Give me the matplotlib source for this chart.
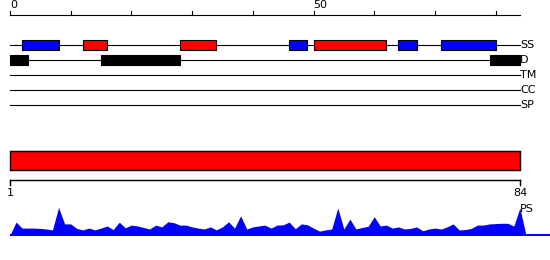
import matplotlib
matplotlib.use("Agg")
import matplotlib.pyplot as plt
import numpy as np

# ---------------- data ----------------
seq_len = 84
ruler_ticks = [0, 10, 20, 30, 40, 50, 60, 70, 80]
ruler_labels = {0: "0", 50: "50"}
track_names = ["SS", "D", "TM", "CC", "SP"]
helix_segments = [(12, 16), (28, 34), (50, 62)]          # red
strand_segments = [(2, 8), (46, 49), (64, 67), (71, 80)]  # blue
disorder_segments = [(0, 3), (15, 28), (79, 84)]          # black
domain_start = 1
domain_end = 84
ps_values = [0.43, 0.23, 0.23, 0.23, 0.22, 0.20, 0.17, 0.92, 0.37, 0.37,
             0.22, 0.17, 0.23, 0.17, 0.23, 0.30, 0.18, 0.43, 0.24, 0.33,
             0.30, 0.25, 0.20, 0.33, 0.27, 0.44, 0.41, 0.33, 0.33, 0.27,
             0.23, 0.20, 0.27, 0.17, 0.27, 0.44, 0.23, 0.64, 0.20, 0.27,
             0.30, 0.33, 0.23, 0.33, 0.34, 0.43, 0.21, 0.37, 0.34, 0.23,
             0.13, 0.17, 0.20, 0.90, 0.20, 0.53, 0.20, 0.25, 0.29, 0.61,
             0.30, 0.33, 0.23, 0.27, 0.20, 0.22, 0.27, 0.14, 0.20, 0.23,
             0.20, 0.27, 0.37, 0.17, 0.18, 0.22, 0.33, 0.33, 0.37, 0.38,
             0.39, 0.39, 0.30, 0.90]

# ---------------- layout ----------------
W, H = 550, 260
px_per_unit = 6.07
x0_px = 10
xlim = (-x0_px / px_per_unit, (W - x0_px) / px_per_unit)
FS = 8
lw = 0.8

fig = plt.figure(figsize=(W / 100, H / 100), dpi=100)
ax = fig.add_axes([0, 0, 1, 1])
ax.set_xlim(*xlim)
ax.set_ylim(H, 0)
ax.axis("off")

# top ruler
ruler_y = 15
ax.plot([0, seq_len], [ruler_y, ruler_y], color="black", lw=lw)
for t in ruler_ticks:
    ax.plot([t, t], [ruler_y, ruler_y - 4], color="black", lw=lw)
    if t in ruler_labels:
        ax.text(t, ruler_y - 4.5, ruler_labels[t], ha="left", va="bottom",
                fontsize=FS, color="black")

# tracks
track_y = {name: 45 + 15 * i for i, name in enumerate(track_names)}
for name in track_names:
    y = track_y[name]
    ax.plot([0, seq_len], [y, y], color="black", lw=lw, zorder=1)
    ax.text(seq_len, y, name, ha="left", va="center", fontsize=FS,
            color="black")

box_h = 10.5
ss_y = track_y["SS"]
ax.broken_barh([(s, e - s) for s, e in strand_segments], (ss_y - box_h / 2, box_h),
               facecolors="#0000ff", edgecolors="black", linewidth=lw, zorder=2)
ax.broken_barh([(s, e - s) for s, e in helix_segments], (ss_y - box_h / 2, box_h),
               facecolors="#ff0000", edgecolors="black", linewidth=lw, zorder=2)
d_y = track_y["D"]
ax.broken_barh([(s, e - s) for s, e in disorder_segments], (d_y - box_h / 2, box_h),
               facecolors="black", edgecolors="black", linewidth=lw, zorder=2)

# domain bar
bar_top, bar_bot = 150.7, 170.3
ax.broken_barh([(domain_start - 1, domain_end - domain_start + 1)],
               (bar_top, bar_bot - bar_top),
               facecolors="#ff0000", edgecolors="black", linewidth=lw * 1.3)

# bottom ruler
r2_y = 180
ax.plot([domain_start - 1, domain_end], [r2_y, r2_y], color="black", lw=lw * 1.3)
for pos, lab in [(domain_start - 1, str(domain_start)), (domain_end, str(domain_end))]:
    ax.plot([pos, pos], [r2_y, r2_y + 4.5], color="black", lw=lw * 1.3)
    ax.text(pos, r2_y + 8.5, lab, ha="center", va="top", fontsize=FS, color="black")

# PS profile
base_px = 235
prof_h_px = 30
axp = fig.add_axes([0, (H - base_px) / H, 1, prof_h_px / H])
axp.set_xlim(*xlim)
axp.set_ylim(0, 1)
axp.axis("off")
xs = np.arange(0, len(ps_values) + 2)
ys = np.concatenate([[0], ps_values, [0]])
axp.fill_between(xs, 0, ys, color="#0000ff", lw=0)
axp.plot([0, xlim[1]], [0, 0], color="#0000ff", lw=1.4, solid_capstyle="butt",
         clip_on=False)
axp.text(seq_len, 0.85, "PS", ha="left", va="center", fontsize=FS, color="black")

fig.savefig("out.png", dpi=100)
